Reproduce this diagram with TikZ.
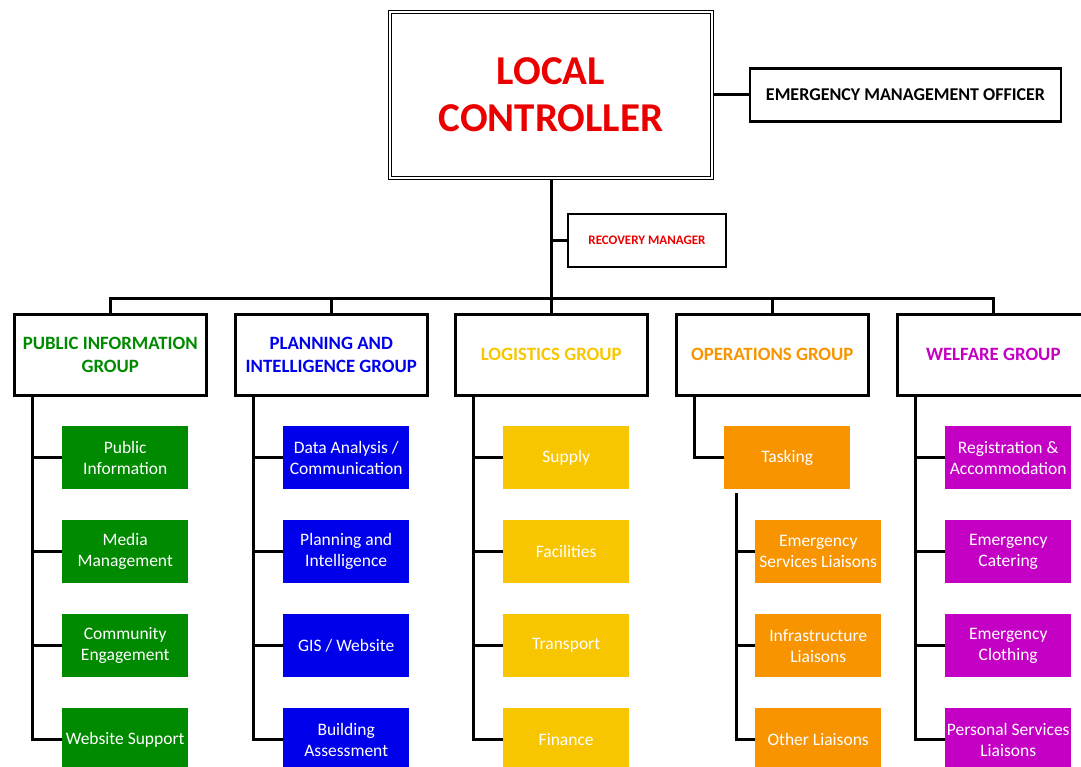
\documentclass[tikz,border=0pt]{standalone}
\usepackage{fontspec}
\setmainfont{Carlito}
\usetikzlibrary{positioning}

\definecolor{ctrlred}{RGB}{235,0,0}
\definecolor{pubgreen}{RGB}{0,138,0}
\definecolor{planblue}{RGB}{0,0,235}
\definecolor{loggold}{RGB}{248,198,0}
\definecolor{opsorange}{RGB}{247,148,0}
\definecolor{welmagenta}{RGB}{196,0,196}

\begin{document}
\begin{tikzpicture}[
  x=1pt, y=-1pt,
  every node/.style={inner sep=1pt},
  headbox/.style={draw, line width=2.5pt, minimum width=192pt, minimum height=81pt,
    align=center, anchor=north west, font=\fontsize{18.8}{23}\selectfont\bfseries},
  unitbox/.style={minimum width=126pt, minimum height=63pt, align=center,
    anchor=north west, text=white, font=\fontsize{17.5}{21}\selectfont},
  wire/.style={line width=3pt}
]
\useasboundingbox (0,0) rectangle (1081,767);

% top of the chart
\node[draw, double, line width=1.2pt, double distance=2pt, minimum width=322pt,
  minimum height=166pt, align=center, text=ctrlred,
  font=\fontsize{41}{47}\selectfont\bfseries] (ctrl) at (551,95) {LOCAL\\CONTROLLER};
\node[draw, line width=2.5pt, minimum width=311pt, minimum height=53pt,
  font=\fontsize{18}{22}\selectfont\bfseries] (emo) at (905.5,95)
  {EMERGENCY MANAGEMENT OFFICER};
\node[draw, line width=2.5pt, minimum width=158pt, minimum height=53pt,
  text=ctrlred, font=\fontsize{13}{15}\selectfont\bfseries] (rec) at (647,240.5)
  {RECOVERY MANAGER};
\coordinate (bus) at (551,298);

% groups
\node[headbox, text=pubgreen] (pub) at (13,313) {PUBLIC INFORMATION\\GROUP};
\node[headbox, text=planblue] (plan) at (234,313) {PLANNING AND\\INTELLIGENCE GROUP};
\node[headbox, text=loggold] (logi) at (454,313) {LOGISTICS GROUP};
\node[headbox, text=opsorange] (ops) at (675,313) {OPERATIONS GROUP};
\node[headbox, text=welmagenta] (wel) at (896,313) {WELFARE GROUP};

% units
\foreach \txt [count=\k] in {{Public\\Information}, {Media\\Management},
    {Community\\Engagement}, {Website Support}}
  \node[unitbox, fill=pubgreen] (pub\k) at (62,{426+94*(\k-1)}) {\txt};
\foreach \txt [count=\k] in {{Data Analysis /\\Communication}, {Planning and\\Intelligence},
    {GIS / Website}, {Building\\Assessment}}
  \node[unitbox, fill=planblue] (plan\k) at (283,{426+94*(\k-1)}) {\txt};
\foreach \txt [count=\k] in {Supply, Facilities, Transport, Finance}
  \node[unitbox, fill=loggold] (logi\k) at (503,{426+94*(\k-1)}) {\txt};
\node[unitbox, fill=opsorange] (task) at (724,426) {Tasking};
\foreach \txt [count=\k] in {{Emergency\\Services Liaisons}, {Infrastructure\\Liaisons},
    {Other Liaisons}}
  \node[unitbox, fill=opsorange] (ops\k) at (755,{520+94*(\k-1)}) {\txt};
\foreach \txt [count=\k] in {{Registration \&\\Accommodation}, {Emergency\\Catering},
    {Emergency\\Clothing}, {Personal Services\\Liaisons}}
  \node[unitbox, fill=welmagenta] (wel\k) at (945,{426+94*(\k-1)}) {\txt};

% connectors
\draw[wire] (ctrl.east) -- (emo.west);
\draw[wire] (ctrl.south) -- (bus);
\draw[wire] (rec.west) -- (rec.west -| ctrl.south);
\draw[wire] (pub.north) |- (bus) -| (wel.north);
\foreach \g in {plan,logi,ops}
  \draw[wire] (\g.north) -- (\g.north |- bus);
\foreach \g in {pub,plan,logi,wel}
  \foreach \k in {1,...,4}
    \draw[wire] (\g\k.west) -| ([xshift=19.5pt]\g.south west);
\draw[wire] (task.west) -| ([xshift=19pt]ops.south west);
\foreach \k in {1,2,3}
  \draw[wire] (ops\k.west) -| ([xshift=12pt,yshift=-4pt]task.south west);
\end{tikzpicture}
\end{document}
